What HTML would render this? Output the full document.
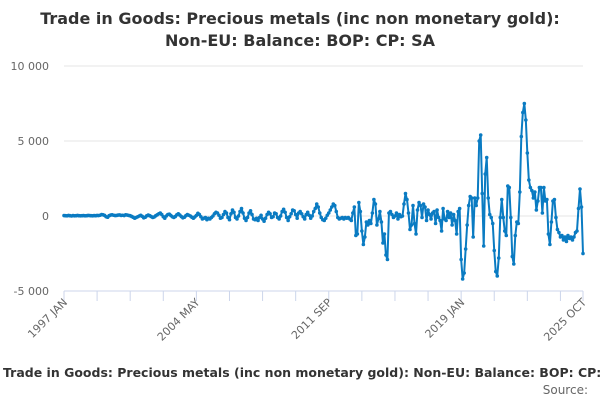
<!DOCTYPE html>
<html><head><meta charset="utf-8"><style>
body{margin:0;background:#fff;font-family:"DejaVu Sans","Liberation Sans",sans-serif}
#wrap{position:relative;width:600px;height:400px;overflow:hidden}
</style></head><body>
<div id="wrap">
<svg id="chart" width="600" height="400" font-family="DejaVu Sans, Liberation Sans, sans-serif">
<text x="300" y="24" text-anchor="middle" font-size="16" font-weight="bold" fill="#333">Trade in Goods: Precious metals (inc non monetary gold):</text>
<text x="300" y="46" text-anchor="middle" font-size="16" font-weight="bold" fill="#333">Non-EU: Balance: BOP: CP: SA</text>
<g id="grid"></g><g id="axes"></g><g id="series"></g>
<text x="3" y="377" font-size="12.5" font-weight="bold" fill="#333">Trade in Goods: Precious metals (inc non monetary gold): Non-EU: Balance: BOP: CP: SA</text>
<text x="588" y="394" text-anchor="end" font-size="12" fill="#666">Source:</text>
</svg></div>
<script>
const yTicks=[10000,5000,0,-5000];
const yTickLabels=["10 000","5 000","0","-5 000"];
const xLabelIdx=[0,88,176,264,345];
const xLabels=["1997 JAN","2004 MAY","2011 SEP","2019 JAN","2025 OCT"];
const values=[].concat(
[30,20,10,40,20,0,30,10,20,40,20,10],
[20,30,10,20,40,30,20,10,30,20,40,30],
[50,100,80,40,-50,-80,20,60,80,50,30,40],
[60,70,40,50,30,80,60,40,20,-30,-80,-150],
[-100,-50,0,50,-20,-120,-80,10,60,20,-40,-100],
[-60,20,80,150,200,100,-50,-150,0,100,120,40],
[-50,-100,-30,80,150,60,-40,-120,-80,20,100,50],
[0,-80,-150,-60,40,180,100,-50,-200,-150,-100,-250],
[-150,-200,-100,0,150,250,200,50,-150,-100,100,300],
[200,-100,-250,150,400,250,-100,-200,0,300,500,200],
[-150,-300,-100,200,350,100,-200,-250,-150,-300,-100,50],
[-200,-350,-150,100,250,150,-100,-50,200,150,-100,-200],
[0,300,450,250,-100,-300,-50,150,400,350,100,-150],
[200,300,150,-50,-200,100,250,50,-150,0,300,500],
[800,600,200,-100,-250,-300,-150,50,200,400,600,800],
[700,300,-100,-200,-150,-100,-200,-100,-150,-100,-200,-300],
[200,600,-1300,-1200,900,300,-1000,-1900,-1400,-400,-600,-300],
[-500,200,1100,800,-600,-200,300,-400,-1800,-1200,-2600,-2900],
[200,300,100,-100,0,200,-200,100,-50,0,800,1500],
[1100,200,-900,-600,700,-500,-1200,400,900,700,-100,800],
[600,-300,400,100,-200,200,300,-500,400,-100,-300,-1000],
[500,-200,-300,300,-100,200,-600,100,-300,-1200,300,500],
[-2900,-4200,-3800,-2200,-600,700,1300,1200,-1400,1200,700,1200],
[5000,5400,1500,-2000,2800,3900,1200,100,-100,-500,-2300,-3700],
[-4000,-2800,-100,1100,-100,-1000,-1300,2000,1900,-100,-2700,-3200],
[-1300,-400,-500,1600,5300,6900,7500,6400,4200,2400,1900,1700],
[1200,1600,400,1000,1900,1900,200,1900,1000,1100,-1200,-1900],
[-400,1000,1100,-100,-900,-1100,-1400,-1300,-1600,-1400,-1700,-1300],
[-1500,-1400,-1600,-1400,-1100,-1000,500,1800,600,-2500]
);
const X0=64,X1=583,Y0=216,PX=75/5000;
const N=values.length;
function xs(i){return X0+i*(X1-X0)/(N-1);}
function ys(v){return Y0-v*PX;}
const NS="http://www.w3.org/2000/svg";
const grid=document.getElementById('grid'),axes=document.getElementById('axes'),ser=document.getElementById('series');
yTicks.forEach((t,k)=>{
 const l=document.createElementNS(NS,'line');
 l.setAttribute('x1',X0);l.setAttribute('x2',X1);l.setAttribute('y1',ys(t));l.setAttribute('y2',ys(t));
 l.setAttribute('stroke',t===-5000?'#ccd6eb':'#e6e6e6');l.setAttribute('stroke-width',1);
 
 
 grid.appendChild(l);
 const tx=document.createElementNS(NS,'text');
 tx.setAttribute('x',49);tx.setAttribute('y',ys(t)+4);tx.setAttribute('text-anchor','end');
 tx.setAttribute('font-size','11');tx.setAttribute('fill','#666');tx.textContent=yTickLabels[k];
 
 
 axes.appendChild(tx);
});
for(let i=0;i<N;i+=22){
 const l=document.createElementNS(NS,'line');
 l.setAttribute('x1',xs(i));l.setAttribute('x2',xs(i));l.setAttribute('y1',291);l.setAttribute('y2',301);
 l.setAttribute('stroke','#ccd6eb');
 
 
 axes.appendChild(l);
}
xLabelIdx.forEach((idx,k)=>{
 const x=xs(idx);
 if(idx===N-1){const l=document.createElementNS(NS,'line');l.setAttribute('x1',x);l.setAttribute('x2',x);l.setAttribute('y1',291);l.setAttribute('y2',301);l.setAttribute('stroke','#ccd6eb');
 
 
 axes.appendChild(l);}
 const tx=document.createElementNS(NS,'text');
 tx.setAttribute('x',x+4);tx.setAttribute('y',303);tx.setAttribute('text-anchor','end');
 tx.setAttribute('font-size','11');tx.setAttribute('fill','#666');
 tx.setAttribute('transform','rotate(-45 '+(x+4)+' 303)');tx.textContent=xLabels[k];
 
 
 axes.appendChild(tx);
});
const p=document.createElementNS(NS,'polyline');
p.setAttribute('points',values.map((v,i)=>xs(i).toFixed(2)+','+ys(v).toFixed(2)).join(' '));
p.setAttribute('fill','none');p.setAttribute('stroke','#0a7bc2');p.setAttribute('stroke-width','2');p.setAttribute('stroke-linejoin','round');


ser.appendChild(p);
values.forEach((v,i)=>{
 const c=document.createElementNS(NS,'circle');
 c.setAttribute('cx',xs(i));c.setAttribute('cy',ys(v));c.setAttribute('r',1.8);c.setAttribute('fill','#0a7bc2');
 
 
 ser.appendChild(c);
});
</script>
</body></html>
